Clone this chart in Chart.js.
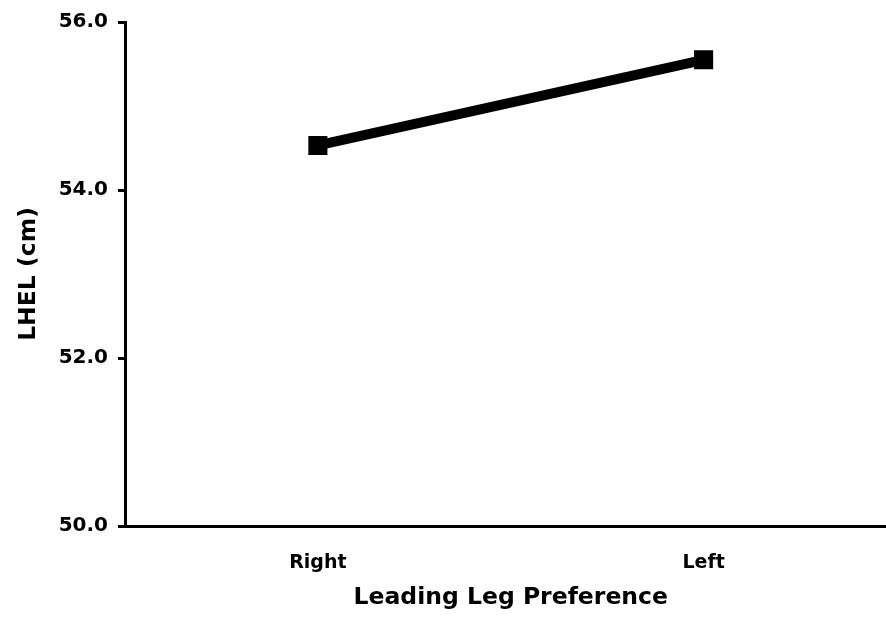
<!DOCTYPE html>
<html>
<head>
<meta charset="utf-8">
<script src="https://cdn.jsdelivr.net/npm/chart.js@4"></script>
<style>
  html, body { margin: 0; padding: 0; background: #fff; overflow: hidden; }
  #wrap { position: absolute; left: 0; top: 0; width: 910px; height: 620px; }
</style>
</head>
<body>
<div id="wrap"><canvas id="chart" width="910" height="620"></canvas></div>
<script>
// categories and values
var legPreference = ['Right', 'Left'];
var lhelCm = [54.53, 55.55];
var yTicks = [50, 52, 54, 56];

var yTickFont = { family: 'DejaVu Sans', size: 20, weight: 'bold' };
var xTickFont = { family: 'DejaVu Sans', size: 19, weight: 'bold' };
var titleFont = { family: 'DejaVu Sans', size: 23.5, weight: 'bold' };

new Chart(document.getElementById('chart'), {
    type: 'line',
    data: {
        labels: legPreference,
        datasets: [{
            label: 'LHEL (cm)',
            data: lhelCm,
            borderColor: '#000',
            backgroundColor: '#000',
            borderWidth: 10,
            tension: 0,
            pointStyle: 'rect',
            pointRadius: 13.5,
            pointBorderWidth: 0,
            pointBackgroundColor: '#000'
        }]
    },
    options: {
        responsive: false,
        devicePixelRatio: 1,
        animation: false,
        layout: { padding: { top: 22, right: 3, bottom: 0, left: 0 } },
        plugins: { legend: { display: false }, tooltip: { enabled: false } },
        scales: {
            x: {
                offset: true,
                grid: { display: false, drawTicks: false },
                border: { display: true, color: '#000', width: 3 },
                ticks: { color: '#000', font: xTickFont, padding: 26 },
                title: {
                    display: true, text: 'Leading Leg Preference', color: '#000',
                    font: titleFont, padding: { top: 2, bottom: 8 }
                },
                afterFit: function (s) { s.height = 94; }
            },
            y: {
                min: 50,
                max: 56,
                afterBuildTicks: function (s) {
                    s.ticks = yTicks.map(function (v) { return { value: v }; });
                },
                grid: { drawOnChartArea: false, drawTicks: true, tickLength: 7, color: '#000', lineWidth: 3 },
                border: { display: true, color: '#000', width: 3 },
                ticks: {
                    color: '#000', font: yTickFont, padding: 10,
                    callback: function (v) { return Number(v).toFixed(1); }
                },
                title: {
                    display: true, text: 'LHEL (cm)', color: '#000',
                    font: titleFont, padding: { top: 15, bottom: 0 }
                },
                afterFit: function (s) { s.width = 125; }
            }
        }
    }
});
</script>
</body>
</html>
